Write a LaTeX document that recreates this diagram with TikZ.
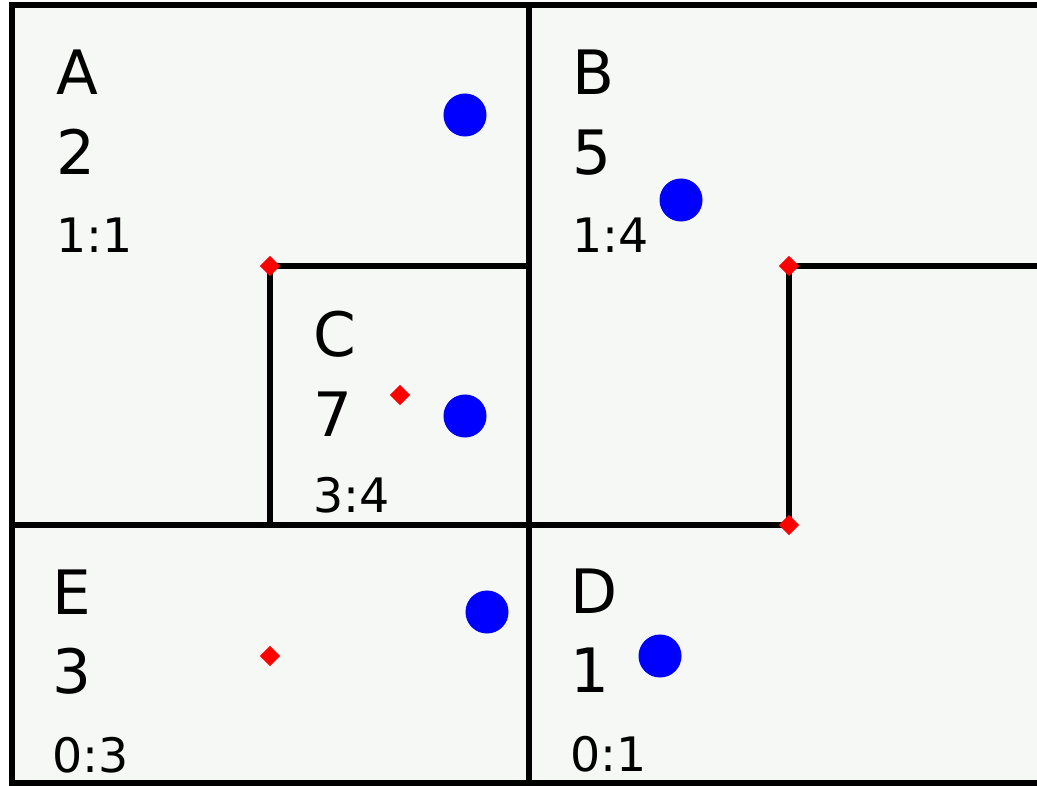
\documentclass[tikz,border=0pt]{standalone}
\usepackage{fontspec}
\setmainfont{DejaVu Sans}
\usetikzlibrary{shapes.geometric}

\definecolor{floor}{RGB}{246,248,246}

\tikzset{
  wall/.style={line width=1.45pt, line cap=rect},
  bigtxt/.style={anchor=base west, inner sep=0pt, font=\fontsize{17.4}{20}\selectfont},
  smalltxt/.style={anchor=base west, inner sep=0pt, font=\fontsize{13.5}{16}\selectfont},
  agent/.style={circle, fill=blue, inner sep=0pt, minimum size=0.43cm},
  corner/.style={diamond, fill=red, inner sep=0pt, minimum size=0.21cm},
}

\begin{document}
\begin{tikzpicture}[x=0.01cm, y=-0.01cm]

% ---------- Parameter (Pixelraster) ----------
\def\xl{12}
\def\xm{529}
\def\xr{1037}
\def\yt{5}
\def\ym{525}
\def\yb{783}

\useasboundingbox (0,0) rectangle (1037,785);
\clip (0,0) rectangle (1037,785);

% Hintergrund
\fill[white] (0,0) rectangle (1037,785);
\fill[floor] (\xl,\yt) rectangle (\xr+10,\yb);

% ===================
% Waende
% ===================
\draw[wall] (\xr+10,\yt) -- (\xl,\yt) -- (\xl,\yb) -- (\xr+10,\yb);
\draw[wall] (\xm,\yt) -- (\xm,\yb);
\draw[wall] (\xl,\ym) -- (789,\ym) -- (789,266) -- (\xr+10,266);
\draw[wall] (\xm,266) -- (270,266) -- (270,\ym);

% ===================
% Beschriftungen
% ===================
\node[bigtxt]   (nameA) at (56,95)  {A};
\node[bigtxt]   (valA)  at (56,175) {2};
\node[smalltxt] (ratA)  at (56,252) {1:1};

\node[bigtxt]   (nameB) at (572,95)  {B};
\node[bigtxt]   (valB)  at (572,175) {5};
\node[smalltxt] (ratB)  at (572,252) {1:4};

\node[bigtxt]   (nameC) at (313,356) {C};
\node[bigtxt]   (valC)  at (313,436) {7};
\node[smalltxt] (ratC)  at (313,512) {3:4};

\node[bigtxt]   (nameE) at (52,614) {E};
\node[bigtxt]   (valE)  at (52,693) {3};
\node[smalltxt] (ratE)  at (52,772) {0:3};

\node[bigtxt]   (nameD) at (570,613) {D};
\node[bigtxt]   (valD)  at (570,692) {1};
\node[smalltxt] (ratD)  at (570,771) {0:1};

% ===================
% Punkte
% ===================
\node[agent] (agA) at (465,115) {};
\node[agent] (agB) at (681,200) {};
\node[agent] (agC) at (465,416) {};
\node[agent] (agE) at (487,612) {};
\node[agent] (agD) at (660,656) {};

\node[corner] (cnC)  at (270,266) {};
\node[corner] (cnBt) at (789,266) {};
\node[corner] (cnBb) at (789,\ym) {};
\node[corner] (ctC)  at (400,395) {};
\node[corner] (ctE)  at (270,656) {};

\end{tikzpicture}
\end{document}
